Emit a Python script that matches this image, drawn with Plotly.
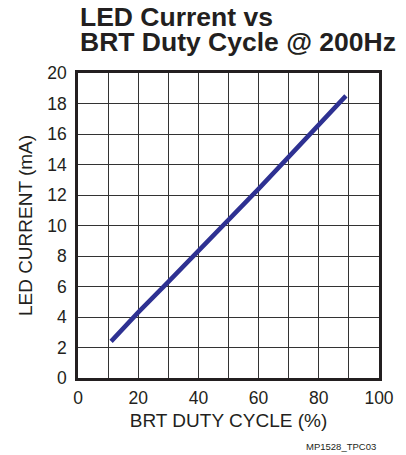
import plotly.graph_objects as go

duty_cycle = [11, 20, 30, 40, 50, 60, 70, 80, 89]
led_current = [2.4, 4.3, 6.3, 8.3, 10.4, 12.4, 14.5, 16.6, 18.5]

x_ticks = [0, 20, 40, 60, 80, 100]
y_ticks = [0, 2, 4, 6, 8, 10, 12, 14, 16, 18, 20]

title_lines = ["LED Current vs", "BRT Duty Cycle @ 200Hz"]

font = "Liberation Sans, Arial, sans-serif"
ink = "#231f20"
grid = "#333333"

fig = go.Figure()
fig.add_trace(
    go.Scatter(
        x=duty_cycle,
        y=led_current,
        mode="lines",
        line={"color": "#2e3192", "width": 4.5},
        showlegend=False,
    )
)

fig.update_layout(
    width=406,
    height=455,
    margin={"l": 78, "r": 25, "t": 73, "b": 77},
    paper_bgcolor="white",
    plot_bgcolor="white",
    font={"family": font, "color": ink, "size": 17},
)

axis_common = dict(
    showgrid=True,
    gridcolor=grid,
    gridwidth=1,
    showline=True,
    linecolor=ink,
    linewidth=2.5,
    mirror=True,
    zeroline=False,
    ticks="",
    tickfont={"family": font, "size": 17.5, "color": ink},
    title_font={"family": font, "size": 19, "color": ink},
)
fig.update_xaxes(
    range=[0, 100],
    tickvals=x_ticks,
    minor={"dtick": 10, "showgrid": True, "gridcolor": grid, "gridwidth": 1},
    ticklabelstandoff=2,
    title_text="BRT DUTY CYCLE (%)",
    title_standoff=7,
    **axis_common,
)
fig.update_yaxes(
    range=[0, 20],
    tickvals=y_ticks,
    ticklabelstandoff=5,
    title_text="LED CURRENT (mA)",
    title_standoff=10,
    **axis_common,
)

# two-line bold title, placed as annotations for tight line spacing
for text, ypos in zip(title_lines, [1.184, 1.100]):
    fig.add_annotation(
        text=f"<b>{text}</b>",
        x=0.0,
        y=ypos,
        xref="paper",
        yref="paper",
        xanchor="left",
        yanchor="middle",
        showarrow=False,
        font={"family": font, "size": 26.5, "color": ink},
    )

fig.add_annotation(
    text="MP1528_TPC03",
    x=0.997,
    y=-0.226,
    xref="paper",
    yref="paper",
    xanchor="right",
    yanchor="middle",
    showarrow=False,
    font={"family": font, "size": 9.5, "color": ink},
)

fig.write_html(
    "out.html",
    config={"displayModeBar": False},
    post_script="document.body.style.margin='0';",
)
